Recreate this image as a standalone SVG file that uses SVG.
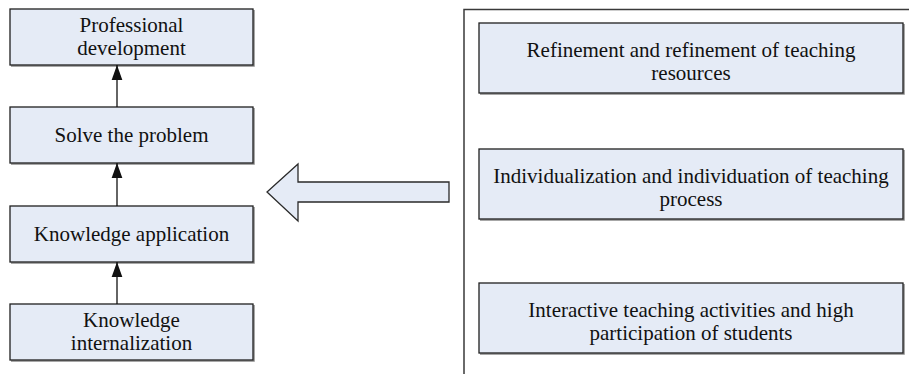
<svg xmlns="http://www.w3.org/2000/svg" width="909" height="374" viewBox="0 0 909 374">
<defs>
<style>
.box{fill:#E5EBF6;stroke:#1f1f1f;stroke-width:1.3}
.shadow{fill:none;stroke:#8a8a8a;stroke-width:1.5}
text{font-family:'Liberation Serif','Times New Roman','DejaVu Serif',serif;font-size:21px;fill:#111;text-anchor:middle}
.conn{stroke:#111;stroke-width:1.3;fill:none}
</style>
<marker id="ah" markerWidth="15" markerHeight="21" refX="21" refY="7.5" viewBox="0 0 21 15" orient="auto" markerUnits="userSpaceOnUse">
<path d="M0,0 L21,7.5 L0,15 Z" fill="#111"/>
</marker>
</defs>
<rect width="909" height="374" fill="#fff"/>

<g id="container">
<path d="M464,374 L464,9.5 L909,9.5" fill="none" stroke="#3a3a3a" stroke-width="1.5"/>
</g>

<g id="n-prof">
<path class="shadow" d="M11,66 L254,66 L254,10"/>
<rect class="box" x="10" y="9" width="243" height="56"/>
<text x="131.5" y="32" font-family="Liberation Serif, serif">Professional</text>
<text x="131.5" y="55" font-family="Liberation Serif, serif">development</text>
</g>
<g id="n-solve">
<path class="shadow" d="M11,164 L254,164 L254,108"/>
<rect class="box" x="10" y="107" width="243" height="56"/>
<text x="131.5" y="142" font-family="Liberation Serif, serif">Solve the problem</text>
</g>
<g id="n-apply">
<path class="shadow" d="M11,263 L254,263 L254,207"/>
<rect class="box" x="10" y="206" width="243" height="56"/>
<text x="131.5" y="241" font-family="Liberation Serif, serif">Knowledge application</text>
</g>
<g id="n-intern">
<path class="shadow" d="M11,361 L254,361 L254,305"/>
<rect class="box" x="10" y="304" width="243" height="56"/>
<text x="131.5" y="327" font-family="Liberation Serif, serif">Knowledge</text>
<text x="131.5" y="350" font-family="Liberation Serif, serif">internalization</text>
</g>

<g id="n-refine">
<path class="shadow" d="M480,94 L904,94 L904,24"/>
<rect class="box" x="479" y="23" width="424" height="70"/>
<text x="691" y="57" font-family="Liberation Serif, serif">Refinement and refinement of teaching</text>
<text x="691" y="80" font-family="Liberation Serif, serif">resources</text>
</g>
<g id="n-indiv">
<path class="shadow" d="M480,220 L904,220 L904,150"/>
<rect class="box" x="479" y="149" width="424" height="70"/>
<text x="691" y="183" font-family="Liberation Serif, serif">Individualization and individuation of teaching</text>
<text x="691" y="206" font-family="Liberation Serif, serif">process</text>
</g>
<g id="n-interact">
<path class="shadow" d="M480,354 L904,354 L904,284"/>
<rect class="box" x="479" y="283" width="424" height="70"/>
<text x="691" y="317" font-family="Liberation Serif, serif">Interactive teaching activities and high</text>
<text x="691" y="340" font-family="Liberation Serif, serif">participation of students</text>
</g>

<g id="connectors">
<line class="conn" x1="117" y1="107" x2="117" y2="65" marker-end="url(#ah)"/>
<line class="conn" x1="117" y1="206" x2="117" y2="163" marker-end="url(#ah)"/>
<line class="conn" x1="117" y1="304" x2="117" y2="262" marker-end="url(#ah)"/>
<path id="block-arrow" d="M449,182 L298,182 L298,164 L267,192 L298,221 L298,202 L449,202 Z" fill="#E5EBF6" stroke="#2a2a2a" stroke-width="1.3"/>
</g>
</svg>
